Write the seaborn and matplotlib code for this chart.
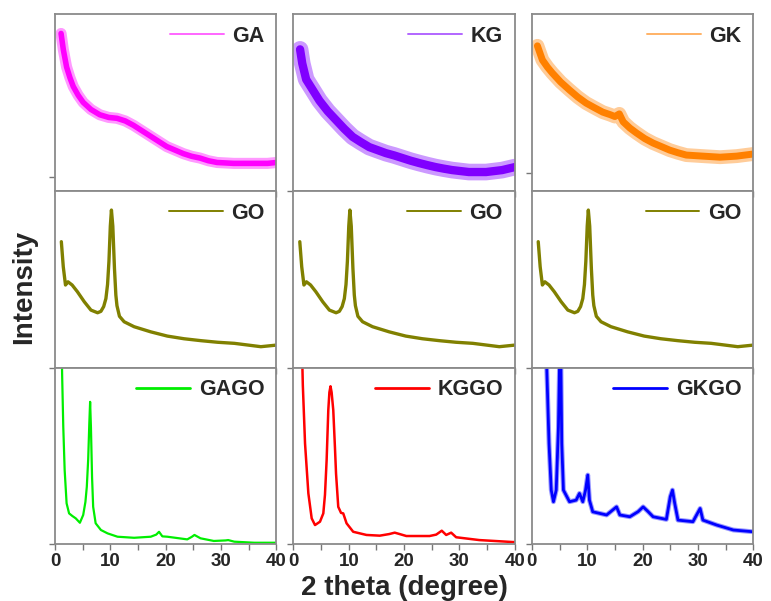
import numpy as np
import seaborn as sns
import matplotlib.pyplot as plt

# intensity values, in % of each panel's height

# GA (top left)
ga_x = [1.1, 1.5, 2.1, 2.7, 3.3, 4.2, 5.1, 6.5, 8.1, 9.7, 11.2, 12.7, 14.2, 15.7, 17.2, 18.7, 20.2,
        21.7, 23.2, 24.7, 26.2, 27.7, 29.3, 32.3, 35.3, 38.4, 40.0]
ga_y = [89, 80, 70, 64, 59, 54, 50, 46, 43, 41.5, 41, 39.5, 37, 34, 31, 28, 25,
        23, 21, 19.5, 18.5, 17, 16, 15.5, 15.5, 15.5, 16]

# KG (top middle)
kg_x = [1.2, 1.6, 2.3, 3.5, 4.7, 6.2, 7.7, 9.2, 10.7, 12.2, 13.7, 15.2, 16.7, 18.2, 19.7, 21.2,
        22.7, 24.2, 25.7, 27.2, 28.7, 31.7, 34.8, 37.7, 40.0]
kg_y = [80, 72, 63, 57, 51, 45, 40, 35, 30.5, 27.5, 24.7, 23, 21.3, 20, 18.5, 17,
        15.7, 14.5, 13.4, 12.5, 11.7, 10.6, 10.6, 11.7, 13.4]

# GK (top right)
gk_x = [1.0, 1.9, 2.8, 3.7, 5.2, 6.8, 8.3, 9.8, 11.3, 12.8, 14.2, 15.0, 15.8, 16.5, 17.7, 18.9,
        20.4, 21.9, 23.4, 24.9, 26.4, 27.9, 30.9, 34.0, 37.0, 40.0]
gk_y = [82, 74, 70, 66.6, 61.5, 57, 53, 49.6, 47, 44.5, 43, 42, 43.5, 39, 35.5, 32.7,
        29.5, 27, 25, 23, 21.5, 20.2, 19.6, 19, 19.6, 20.8]

# GO (middle row, same pattern in every column)
go_x = [1.15, 1.5, 1.9, 2.35, 3.1, 4.05, 5.3, 6.5, 7.7, 8.3, 8.8, 9.2, 9.5, 9.75, 10.0, 10.2,
        10.45, 10.75, 11.0, 11.2, 11.65, 12.5, 14.3, 17.3, 20.3, 23.3, 26.4, 29.4, 32.4, 37.2, 40.0]
go_y = [71.2, 57, 46.7, 48.5, 46.7, 42.9, 37.2, 32.5, 31, 31.8, 34.5, 39, 47, 60, 80, 89.1,
        80, 56, 41, 35, 29, 25.9, 23.1, 20.2, 17.8, 16.3, 15.2, 14.3, 13.7, 11.8, 12.7]

# GAGO (bottom left)
gago_x = [1.1, 1.3, 1.5, 1.75, 2.1, 2.55, 3.15, 3.75, 4.5, 5.1, 5.5, 5.75, 6.0, 6.2, 6.35, 6.5,
          6.7, 6.9, 7.35, 8.3, 9.5, 11.3, 14.3, 17.3, 18.3, 18.8, 19.4, 20.3, 23.9, 24.7, 25.2,
          26.3, 28.7, 30.8, 31.3, 32.4, 36.0, 40.0]
gago_y = [130, 95, 66.4, 42, 23.2, 17.5, 16, 14.7, 12.2, 16.6, 24, 32.5, 48, 68, 80.6, 66,
          38, 21.2, 11.9, 8.1, 6.2, 4.3, 3.7, 4.3, 5.5, 7.1, 4.5, 4.3, 2.8, 4.2, 5.3,
          3.4, 1.9, 2.2, 2.4, 1.5, 0.9, 0.9]

# KGGO (bottom middle)
kggo_x = [1.4, 1.7, 2.1, 2.7, 3.3, 3.9, 4.8, 5.4, 5.7, 6.0, 6.3, 6.5, 6.7, 6.9, 7.2, 7.5, 7.7, 8.1,
          8.6, 9.0, 9.6, 10.8, 13.2, 15.6, 17.3, 18.3, 19.2, 20.4, 24.6, 25.8, 26.8, 27.6, 28.5,
          29.4, 33.6, 39.6, 40.0]
kggo_y = [130, 90, 57, 28.8, 14.7, 10.9, 12.8, 17.5, 28, 47.6, 75.9, 86, 89.4, 86, 75.9, 55,
          40, 21.2, 17.8, 17.5, 11.9, 7.1, 5.3, 4.9, 5.8, 6.6, 5.8, 4.7, 4.7, 5.5, 7.7, 5.3, 6.6,
          4, 2.4, 1.3, 1.3]

# GKGO (bottom right)
gkgo_x = [2.4, 3.1, 3.5, 3.9, 4.4, 4.8, 5.15, 5.4, 5.7, 6.8, 8.0, 8.6, 9.2, 9.7, 10.1, 10.4,
          11.0, 13.5, 15.3, 15.9, 17.7, 19.2, 20.1, 21.0, 21.9, 24.3, 25.0, 25.4, 25.8, 26.4, 29.1,
          30.4, 30.9, 33.4, 36.4, 40.0]
gkgo_y = [130, 57, 30.7, 24.1, 30.7, 66.4, 130, 57, 30.7, 24.1, 25, 28.8, 24.1, 30.7, 39.2, 25,
          18.4, 16.6, 21.2, 16.6, 15.6, 18.5, 21.2, 18.5, 15.6, 14.1, 26.9, 30.7, 23.3, 13.7, 12.8,
          20.3, 13.7, 10.9, 8.1, 7.1]

panel_x = [[ga_x, kg_x, gk_x], [go_x, go_x, go_x], [gago_x, kggo_x, gkgo_x]]
panel_y = [[ga_y, kg_y, gk_y], [go_y, go_y, go_y], [gago_y, kggo_y, gkgo_y]]
panel_labels = [["GA", "KG", "GK"], ["GO", "GO", "GO"], ["GAGO", "KGGO", "GKGO"]]
panel_colors = [["#ff00ff", "#8000ff", "#ff8000"],
                ["#808000", "#808000", "#808000"],
                ["#00ee00", "#ff0000", "#0000ff"]]
# width of the noise band (pt) and of the core trace (pt)
panel_band = [[8, 12, 10], [0, 0, 0], [0, 0, 3.5]]
panel_lw = [[4, 6, 5], [2.4, 2.4, 2.4], [1.6, 1.8, 2.0]]
panel_ytick = [[8, 0, 10], [0, 0, 0], [0, 0, 0]]

sns.set_theme(style="ticks")
plt.rcParams["font.family"] = ["Liberation Sans", "DejaVu Sans"]
plt.rcParams["font.weight"] = "bold"

fig, axes = plt.subplots(3, 3, sharex=True, figsize=(7.71, 6.01), dpi=100)
fig.subplots_adjust(left=0.0713, right=0.977, top=0.9767, bottom=0.0943, wspace=0.077, hspace=0)

for i in range(3):
    for j in range(3):
        ax = axes[i, j]
        c = panel_colors[i][j]
        if panel_band[i][j] > 0:
            sns.lineplot(x=panel_x[i][j], y=panel_y[i][j], ax=ax, color=c,
                         linewidth=panel_band[i][j], alpha=0.4)
        sns.lineplot(x=panel_x[i][j], y=panel_y[i][j], ax=ax, color=c,
                     linewidth=panel_lw[i][j], label=panel_labels[i][j])
        ax.set_xlim(0, 40)
        ax.set_ylim(0, 100)
        ax.set_yticks([panel_ytick[i][j]])
        ax.set_yticklabels([])
        ax.set_xticks([0, 10, 20, 30, 40])
        ax.set_xticks([5, 15, 25, 35], minor=True)
        ax.tick_params(axis="both", which="both", direction="out", length=4,
                       width=1, color="#777777", labelsize=13.5)
        ax.tick_params(axis="x", which="major", pad=2)
        for s in ax.spines.values():
            s.set_color("#8a8a8a")
            s.set_linewidth(1.3)
        if i < 2:
            ax.tick_params(axis="x", which="both", labelbottom=False)
        leg = ax.legend(loc="upper right", frameon=False, handlelength=2.5,
                        handletextpad=0.4, borderaxespad=0.15,
                        prop={"weight": "bold", "size": 15.5})
        for h in leg.get_lines():
            h.set_linewidth(1.4 if i < 2 else 2.0)
            if i == 0:
                h.set_alpha(0.6)
        for lab in ax.get_xticklabels():
            lab.set_fontweight("bold")

fig.text(0.031, 0.522, "Intensity", rotation=90, ha="center", va="center",
         fontsize=20, fontweight="bold")
fig.text(0.525, 0.021, "2 theta (degree)", ha="center", va="center",
         fontsize=20, fontweight="bold")

fig.savefig("out.png", dpi=100)
